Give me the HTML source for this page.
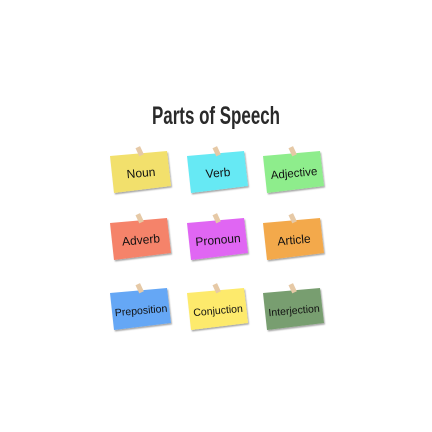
<!DOCTYPE html>
<html><head><meta charset="utf-8"><style>
html,body{margin:0;padding:0;background:#fff;width:432px;height:432px;overflow:hidden}
</style></head><body>
<svg width="432" height="432" xmlns="http://www.w3.org/2000/svg">
<defs>
<filter id="sh" x="-20%" y="-20%" width="140%" height="140%"><feDropShadow dx="1" dy="1.5" stdDeviation="0.8" flood-color="#000" flood-opacity="0.35"/></filter>
</defs>
<text x="216" y="124" text-anchor="middle" font-family="Liberation Sans Narrow, Liberation Sans, sans-serif" font-weight="bold" font-size="25" fill="#2a2a2a" textLength="128" lengthAdjust="spacingAndGlyphs">Parts of Speech</text>
<g font-family="Liberation Sans, sans-serif" font-size="12" fill="#111" text-anchor="middle">
<!-- card template via transforms -->
<g transform="translate(110,151)">
<polygon points="0,5 57,0 61,35 4,42" fill="#f2e06c" filter="url(#sh)"/>
<rect x="27" y="-4" width="5" height="9" fill="#e6c9a6" transform="rotate(-25 29 0)"/>
<text x="31" y="26" transform="rotate(-5 31 22)">Noun</text></g>
<g transform="translate(187,151)">
<polygon points="0,5 57,0 61,35 4,42" fill="#66e9f4" filter="url(#sh)"/>
<rect x="27" y="-4" width="5" height="9" fill="#e6c9a6" transform="rotate(-25 29 0)"/>
<text x="31" y="26" transform="rotate(-5 31 22)">Verb</text></g>
<g transform="translate(263,151)">
<polygon points="0,5 57,0 61,35 4,42" fill="#8eed8c" filter="url(#sh)"/>
<rect x="27" y="-4" width="5" height="9" fill="#e6c9a6" transform="rotate(-25 29 0)"/>
<text x="31" y="26" font-size="11.5" transform="rotate(-5 31 22)">Adjective</text></g>

<g transform="translate(110,218)">
<polygon points="0,5 57,0 61,35 4,42" fill="#f5836b" filter="url(#sh)"/>
<rect x="27" y="-4" width="5" height="9" fill="#e6c9a6" transform="rotate(-25 29 0)"/>
<text x="31" y="26" transform="rotate(-5 31 22)">Adverb</text></g>
<g transform="translate(187,218)">
<polygon points="0,5 57,0 61,35 4,42" fill="#e066f3" filter="url(#sh)"/>
<rect x="27" y="-4" width="5" height="9" fill="#e6c9a6" transform="rotate(-25 29 0)"/>
<text x="31" y="26" transform="rotate(-5 31 22)">Pronoun</text></g>
<g transform="translate(263,218)">
<polygon points="0,5 57,0 61,35 4,42" fill="#f3a94c" filter="url(#sh)"/>
<rect x="27" y="-4" width="5" height="9" fill="#e6c9a6" transform="rotate(-25 29 0)"/>
<text x="31" y="26" transform="rotate(-5 31 22)">Article</text></g>

<g transform="translate(110,288)">
<polygon points="0,5 57,0 61,35 4,42" fill="#65a7f5" filter="url(#sh)"/>
<rect x="27" y="-4" width="5" height="9" fill="#e6c9a6" transform="rotate(-25 29 0)"/>
<text x="31" y="26" font-size="10.5" transform="rotate(-5 31 22)">Preposition</text></g>
<g transform="translate(187,288)">
<polygon points="0,5 57,0 61,35 4,42" fill="#fdea6c" filter="url(#sh)"/>
<rect x="27" y="-4" width="5" height="9" fill="#e6c9a6" transform="rotate(-25 29 0)"/>
<text x="31" y="26" font-size="10.5" transform="rotate(-5 31 22)">Conjuction</text></g>
<g transform="translate(263,288)">
<polygon points="0,5 57,0 61,35 4,42" fill="#789e6f" filter="url(#sh)"/>
<rect x="27" y="-4" width="5" height="9" fill="#e6c9a6" transform="rotate(-25 29 0)"/>
<text x="31" y="26" font-size="10.5" transform="rotate(-5 31 22)">Interjection</text></g>
</g>
</svg>
</body></html>
